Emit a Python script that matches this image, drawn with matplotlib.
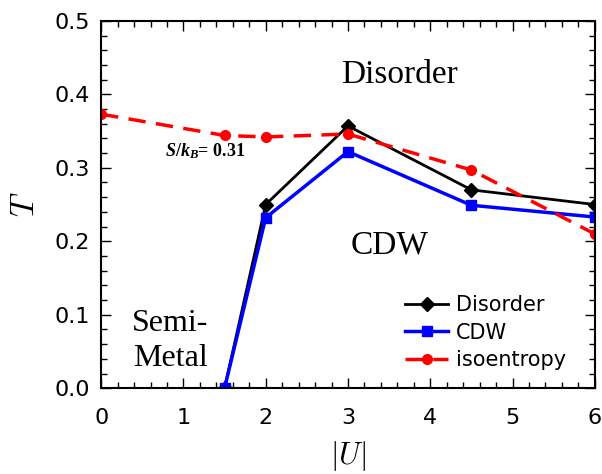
import matplotlib
matplotlib.use("Agg")
import matplotlib.pyplot as plt
from matplotlib.ticker import MultipleLocator

plt.rcParams['mathtext.fontset'] = 'cm'
# bold italic serif for the entropy label
plt.rcParams['mathtext.it'] = 'Liberation Serif:italic:bold'
plt.rcParams['mathtext.rm'] = 'Liberation Serif:bold'

# phase boundary data
u_dis = [1.5, 2.0, 3.0, 4.5, 6.0]
t_dis = [0.0, 0.25, 0.357, 0.270, 0.250]

u_cdw = [1.5, 2.0, 3.0, 4.5, 6.0]
t_cdw = [0.0, 0.232, 0.322, 0.249, 0.233]

#isoentropy curve
u_iso = [0.0, 1.5, 2.0, 3.0, 4.5, 6.0]
t_iso = [0.373, 0.344, 0.342, 0.346, 0.297, 0.210]

fig = plt.figure(figsize=(6.02, 4.74), dpi=100)
ax = fig.add_axes([0.168, 0.181, 0.820, 0.775])

ax.plot(u_dis, t_dis, '-', color='black', lw=2, marker='D', ms=7, label='Disorder')
ax.plot(u_cdw, t_cdw, '-', color='blue', lw=2.5, marker='s', ms=6.5, mec='blue', label='CDW')
ax.plot(u_iso, t_iso, '--', color='red', lw=2.5, marker='o', ms=7, mec='red',
        dashes=(5, 3), label='isoentropy')

ax.set_xlim(0, 6)
ax.set_ylim(0, 0.5)
ax.xaxis.set_major_locator(MultipleLocator(1))
ax.xaxis.set_minor_locator(MultipleLocator(0.2))
ax.yaxis.set_major_locator(MultipleLocator(0.1))
ax.yaxis.set_minor_locator(MultipleLocator(0.02))
ax.tick_params(which='both', direction='in', top=True, right=True, labelsize=16)
ax.tick_params(which='major', length=7, width=1)
ax.tick_params(which='minor', length=4, width=1)
ax.tick_params(axis='x', which='major', pad=14)
ax.tick_params(axis='y', which='major', pad=8)
for s in ax.spines.values():
    s.set_linewidth(1.5)

ax.set_xlabel(r'$|U|$', fontsize=22, labelpad=8)
ax.set_ylabel(r'$T$', fontsize=24, labelpad=10)

serif = 'Liberation Serif'
ax.text(3.63, 0.427, 'Disorder', family=serif, fontsize=24, ha='center', va='center')
ax.text(3.51, 0.195, 'CDW', family=serif, fontsize=24, ha='center', va='center')
ax.text(0.84, 0.064, 'Semi-\nMetal', family=serif, fontsize=23, ha='center', va='center',
        linespacing=1.25)
ax.text(1.27, 0.323, r'$S/k_B$' + '= 0.31', family=serif, fontsize=13,
        fontweight='bold', ha='center', va='center', math_fontfamily='custom')

ax.legend(loc='lower left', frameon=False, fontsize=15, handlelength=2.1,
          handletextpad=0.35, labelspacing=0.35, borderpad=0, borderaxespad=0,
          bbox_to_anchor=(0.615, 0.05))

fig.savefig('out.png', dpi=100)
